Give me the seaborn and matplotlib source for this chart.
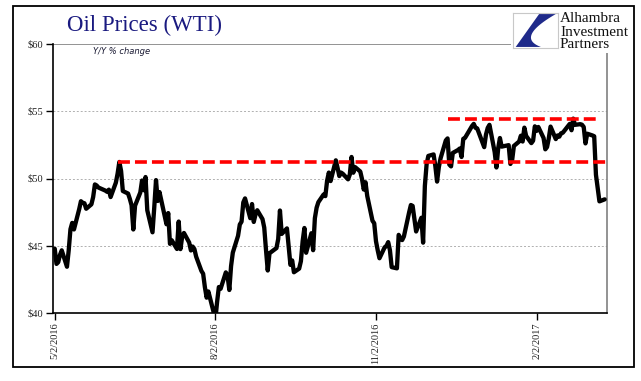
import matplotlib
matplotlib.use("Agg")
import matplotlib.pyplot as plt
from matplotlib.patches import Rectangle, Polygon
import seaborn as sns
import pandas as pd
import numpy as np

# WTI daily closes, May 2016 - Mar 2017
may16 = [("2016-05-02", 44.78), ("2016-05-03", 43.65), ("2016-05-04", 43.78), ("2016-05-05", 44.32),
         ("2016-05-06", 44.66), ("2016-05-09", 43.44), ("2016-05-10", 44.66), ("2016-05-11", 46.23),
         ("2016-05-12", 46.70), ("2016-05-13", 46.21), ("2016-05-16", 47.72), ("2016-05-17", 48.31),
         ("2016-05-18", 48.19), ("2016-05-19", 48.16), ("2016-05-20", 47.75), ("2016-05-23", 48.08),
         ("2016-05-24", 48.62), ("2016-05-25", 49.56), ("2016-05-26", 49.48), ("2016-05-27", 49.33),
         ("2016-05-31", 49.10)]
jun16 = [("2016-06-01", 49.01), ("2016-06-02", 49.17), ("2016-06-03", 48.62), ("2016-06-06", 49.69),
         ("2016-06-07", 50.36), ("2016-06-08", 51.23), ("2016-06-09", 50.56), ("2016-06-10", 49.07),
         ("2016-06-13", 48.88), ("2016-06-14", 48.49), ("2016-06-15", 48.01), ("2016-06-16", 46.21),
         ("2016-06-17", 47.98), ("2016-06-20", 48.96), ("2016-06-21", 49.85), ("2016-06-22", 49.13),
         ("2016-06-23", 50.11), ("2016-06-24", 47.64), ("2016-06-27", 46.00), ("2016-06-28", 47.85),
         ("2016-06-29", 49.88), ("2016-06-30", 48.33)]
jul16 = [("2016-07-01", 48.99), ("2016-07-05", 46.60), ("2016-07-06", 47.43), ("2016-07-07", 45.14),
         ("2016-07-08", 45.41), ("2016-07-11", 44.76), ("2016-07-12", 46.80), ("2016-07-13", 44.75),
         ("2016-07-14", 45.68), ("2016-07-15", 45.95), ("2016-07-18", 45.24), ("2016-07-19", 44.65),
         ("2016-07-20", 44.94), ("2016-07-21", 44.75), ("2016-07-22", 44.19), ("2016-07-25", 43.13),
         ("2016-07-26", 42.92), ("2016-07-27", 41.92), ("2016-07-28", 41.14), ("2016-07-29", 41.60)]
aug16 = [("2016-08-01", 40.06), ("2016-08-02", 39.51), ("2016-08-03", 40.83), ("2016-08-04", 41.93),
         ("2016-08-05", 41.80), ("2016-08-08", 43.02), ("2016-08-09", 42.77), ("2016-08-10", 41.71),
         ("2016-08-11", 43.49), ("2016-08-12", 44.49), ("2016-08-15", 45.74), ("2016-08-16", 46.58),
         ("2016-08-17", 46.79), ("2016-08-18", 48.22), ("2016-08-19", 48.52), ("2016-08-22", 47.05),
         ("2016-08-23", 48.10), ("2016-08-24", 46.77), ("2016-08-25", 47.33), ("2016-08-26", 47.64),
         ("2016-08-29", 46.98), ("2016-08-30", 46.35), ("2016-08-31", 44.70)]
sep16 = [("2016-09-01", 43.16), ("2016-09-02", 44.44), ("2016-09-06", 44.83), ("2016-09-07", 45.50),
         ("2016-09-08", 47.62), ("2016-09-09", 45.88), ("2016-09-12", 46.29), ("2016-09-13", 44.90),
         ("2016-09-14", 43.58), ("2016-09-15", 43.91), ("2016-09-16", 43.03), ("2016-09-19", 43.30),
         ("2016-09-20", 43.85), ("2016-09-21", 45.34), ("2016-09-22", 46.32), ("2016-09-23", 44.48),
         ("2016-09-26", 45.93), ("2016-09-27", 44.67), ("2016-09-28", 47.05), ("2016-09-29", 47.83),
         ("2016-09-30", 48.24)]
oct16 = [("2016-10-03", 48.81), ("2016-10-04", 48.69), ("2016-10-05", 49.83), ("2016-10-06", 50.44),
         ("2016-10-07", 49.81), ("2016-10-10", 51.35), ("2016-10-11", 50.79), ("2016-10-12", 50.18),
         ("2016-10-13", 50.44), ("2016-10-14", 50.35), ("2016-10-17", 49.94), ("2016-10-18", 50.29),
         ("2016-10-19", 51.60), ("2016-10-20", 50.43), ("2016-10-21", 50.85), ("2016-10-24", 50.52),
         ("2016-10-25", 49.96), ("2016-10-26", 49.18), ("2016-10-27", 49.72), ("2016-10-28", 48.70),
         ("2016-10-31", 46.86)]
nov16 = [("2016-11-01", 46.67), ("2016-11-02", 45.34), ("2016-11-03", 44.66), ("2016-11-04", 44.07),
         ("2016-11-07", 44.89), ("2016-11-08", 44.98), ("2016-11-09", 45.27), ("2016-11-10", 44.66),
         ("2016-11-11", 43.41), ("2016-11-14", 43.32), ("2016-11-15", 45.81), ("2016-11-16", 45.57),
         ("2016-11-17", 45.42), ("2016-11-18", 45.69), ("2016-11-21", 47.49), ("2016-11-22", 48.03),
         ("2016-11-23", 47.96), ("2016-11-25", 46.06), ("2016-11-28", 47.08), ("2016-11-29", 45.23),
         ("2016-11-30", 49.44)]
dec16 = [("2016-12-01", 51.06), ("2016-12-02", 51.68), ("2016-12-05", 51.79), ("2016-12-06", 50.93),
         ("2016-12-07", 49.77), ("2016-12-08", 50.84), ("2016-12-09", 51.50), ("2016-12-12", 52.83),
         ("2016-12-13", 52.98), ("2016-12-14", 51.04), ("2016-12-15", 50.90), ("2016-12-16", 51.90),
         ("2016-12-19", 52.12), ("2016-12-20", 52.23), ("2016-12-21", 51.60), ("2016-12-22", 52.95),
         ("2016-12-23", 53.02), ("2016-12-27", 53.90), ("2016-12-28", 54.06), ("2016-12-29", 53.77),
         ("2016-12-30", 53.72)]
jan17 = [("2017-01-03", 52.33), ("2017-01-04", 53.26), ("2017-01-05", 53.76), ("2017-01-06", 53.99),
         ("2017-01-09", 51.96), ("2017-01-10", 50.82), ("2017-01-11", 52.25), ("2017-01-12", 53.01),
         ("2017-01-13", 52.37), ("2017-01-17", 52.48), ("2017-01-18", 51.08), ("2017-01-19", 51.37),
         ("2017-01-20", 52.42), ("2017-01-23", 52.75), ("2017-01-24", 53.18), ("2017-01-25", 52.75),
         ("2017-01-26", 53.78), ("2017-01-27", 53.17), ("2017-01-30", 52.63), ("2017-01-31", 52.81)]
feb17 = [("2017-02-01", 53.88), ("2017-02-02", 53.54), ("2017-02-03", 53.83), ("2017-02-06", 53.01),
         ("2017-02-07", 52.17), ("2017-02-08", 52.34), ("2017-02-09", 53.00), ("2017-02-10", 53.86),
         ("2017-02-13", 52.93), ("2017-02-14", 53.20), ("2017-02-15", 53.11), ("2017-02-16", 53.36),
         ("2017-02-17", 53.40), ("2017-02-21", 54.06), ("2017-02-22", 53.59), ("2017-02-23", 54.45),
         ("2017-02-24", 53.99), ("2017-02-27", 54.04), ("2017-02-28", 54.00)]
mar17 = [("2017-03-01", 53.83), ("2017-03-02", 52.61), ("2017-03-03", 53.33), ("2017-03-06", 53.20),
         ("2017-03-07", 53.14), ("2017-03-08", 50.28), ("2017-03-09", 49.28), ("2017-03-10", 48.30),
         ("2017-03-13", 48.45)]

# resistance lines: level, start, end
ref_levels = [51.23, 54.45]
ref_starts = ["2016-06-07", "2016-12-13"]
ref_ends = ["2017-03-14", "2017-03-08"]

tick_dates = ["2016-05-02", "2016-08-02", "2016-11-02", "2017-02-02"]
y_ticks = [40, 45, 50, 55, 60]

rows = may16 + jun16 + jul16 + aug16 + sep16 + oct16 + nov16 + dec16 + jan17 + feb17 + mar17
df = pd.DataFrame(rows, columns=["date", "price"])
df["date"] = pd.to_datetime(df["date"])

sns.set_style("white")
W, H = 641, 381
fig = plt.figure(figsize=(W / 100, H / 100), dpi=100)
ax = fig.add_axes([53 / W, 1 - 313 / H, 554 / W, 269 / H])

sns.lineplot(data=df, x="date", y="price", ax=ax, color="black", linewidth=3.1, zorder=3)

ax.hlines(ref_levels, pd.to_datetime(ref_starts), pd.to_datetime(ref_ends),
          colors="#ff0000", linewidth=2.6, linestyles=(0, (3.3, 1.4)), zorder=4)

ax.set_xlim(pd.Timestamp("2016-05-01"), pd.Timestamp("2017-03-14 08:00"))
ax.set_ylim(40, 60)
ax.set_xlabel("")
ax.set_ylabel("")

ax.set_xticks(pd.to_datetime(tick_dates))
ax.set_xticklabels([f"{d.month}/{d.day}/{d.year}" for d in pd.to_datetime(tick_dates)],
                   rotation=90, family="Liberation Serif", fontsize=7.5, color="#222222")
ax.set_yticks(y_ticks)
ax.set_yticklabels([f"${v}" for v in y_ticks], family="Liberation Serif", fontsize=7.5, color="#222222")
ax.tick_params(axis="both", direction="out", length=5, width=1, color="black", pad=2, left=True, bottom=True)

for v in y_ticks[1:-1]:
    ax.axhline(v, color="#b0b0b0", linewidth=0.7, linestyle=(0, (2, 2)), zorder=1)
ax.axhline(60, color="#808080", linewidth=1.2, zorder=1)

for s in ["left", "bottom"]:
    ax.spines[s].set_color("black")
    ax.spines[s].set_linewidth(1.2)
ax.spines["right"].set_color("#808080")
ax.spines["right"].set_linewidth(1.2)
ax.spines["top"].set_visible(False)

# outer frame
fig.patches.append(Rectangle((13 / W, 1 - 367 / H), 621 / W, 361 / H, transform=fig.transFigure,
                             fill=False, edgecolor="black", linewidth=1.3, zorder=5))

fig.text(67 / W, 1 - 25 / H, "Oil Prices (WTI)", family="Liberation Serif", fontsize=16.5,
         color="#1a1a80", ha="left", va="center")
fig.text(93 / W, 1 - 52 / H, "Y/Y % change", family="DejaVu Sans", style="italic", fontsize=6,
         color="#1a1a33", ha="left", va="center")

# logo area
fig.patches.append(Rectangle((511 / W, 1 - 53 / H), 121 / W, 45 / H, transform=fig.transFigure,
                             facecolor="white", edgecolor="none", zorder=4))
lax = fig.add_axes([513 / W, 1 - 48 / H, 45 / W, 35 / H], zorder=6)
lax.set_xlim(0, 1)
lax.set_ylim(0, 1)
lax.set_xticks([])
lax.set_yticks([])
for s in lax.spines.values():
    s.set_color("#c8c8c8")
    s.set_linewidth(0.8)
t = np.linspace(0, 1, 30)
curve_x = (1 - t) ** 2 * 0.95 + 2 * (1 - t) * t * 0.05 + t ** 2 * 0.62
curve_y = (1 - t) ** 2 * 0.97 + 2 * (1 - t) * t * 0.30 + t ** 2 * 0.03
pts = [(0.58, 0.97), (0.06, 0.03)] + list(zip(curve_x[::-1], curve_y[::-1]))
lax.add_patch(Polygon(pts, closed=True, facecolor="#1f2a8a", edgecolor="none"))
for i, word in enumerate(["Alhambra", "Investment", "Partners"]):
    fig.text(560 / W, 1 - (19 + 13 * i) / H, word, family="Liberation Serif", fontsize=11,
             color="#111111", ha="left", va="center", zorder=7)

fig.savefig("out.png", dpi=100)
